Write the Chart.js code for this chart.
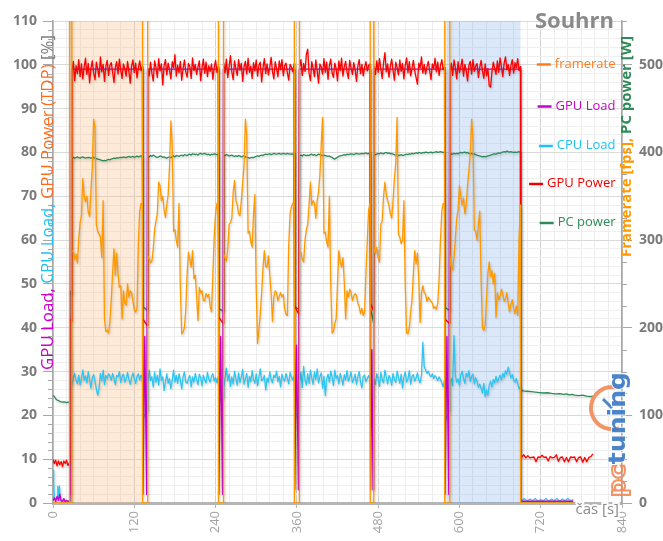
<!DOCTYPE html>
<html><head><meta charset="utf-8">
<style>html,body{margin:0;padding:0;background:#fff;}#wrap{width:663px;height:541px;}</style>
<script src="https://cdn.jsdelivr.net/npm/chart.js@4.4.1/dist/chart.umd.min.js"></script>
</head><body><div id="wrap"><canvas id="c" width="663" height="541"></canvas></div>
<script>
// ---------- DATA ----------
const chartTitle = 'Souhrn';
const seriesNames = ['framerate', 'GPU Load', 'CPU Load', 'GPU Power', 'PC power'];
const xTickLabels = [0, 120, 240, 360, 480, 600, 720, 840];
const leftTickLabels = [0, 10, 20, 30, 40, 50, 60, 70, 80, 90, 100, 110];
const rightTickLabels = [0, 100, 200, 300, 400, 500];
const bandStart = [22.5, 581.5];
const bandEnd = [132.5, 690];
const timeStep = 2;                       // seconds between samples inside a run
const runStart = [28, 140, 252, 364, 474, 586];

// framerate [fps] per run
const framerateRuns = [
 [288,287,278,284,274,300,320,328,370,350,344,350,332,327,355,383,438,428,318,310,307,304,280,345,210,196,197,194,207,232,262,290,260,285,262,246,248,210,242,228,226,250,235,242,240,231,220,218,222,296,333,342,340],
 [282,279,274,276,290,312,322,330,366,362,345,350,334,326,340,352,383,436,410,310,312,300,292,342,246,193,195,200,220,262,286,278,269,288,256,260,236,208,246,240,242,231,231,239,235,238,224,218,260,305,330,342,338],
 [284,280,276,290,318,320,325,355,368,345,340,330,328,345,365,385,438,420,308,310,298,292,330,352,246,182,198,215,240,268,288,270,269,282,260,240,207,235,242,240,231,236,240,235,238,222,215,214,295,330,338,342,336],
 [288,286,278,275,300,312,318,340,366,340,345,342,325,345,355,374,410,440,308,309,298,292,350,250,194,196,205,210,250,288,276,269,280,252,210,242,235,244,240,231,236,239,237,228,224,216,222,214,218,262,300,335,342],
 [290,285,292,280,275,318,322,350,366,352,345,340,330,325,345,370,388,440,307,303,296,300,345,248,194,193,200,218,232,262,288,273,285,255,206,240,248,240,238,230,235,232,230,228,222,224,221,228,255,300,333,342,340],
 [284,270,266,280,302,325,334,362,350,340,348,330,340,362,380,398,438,414,312,310,300,318,333,255,200,197,203,232,262,275,258,265,250,262,212,240,232,236,244,238,230,233,240,228,218,226,232,222,216,225,214,300,340]
];
const framerateGaps = [[0,0],[24,0],[24.5,0],[24.5,1000],[24.6,1000],[24.6,0],[27.5,0],[27.5,1000],
 [132.3,1000],[132.3,0],[139.5,0],[139.5,1000],
 [244.3,1000],[244.3,0],[251.5,0],[251.5,1000],
 [356.3,1000],[356.3,0],[363.5,0],[363.5,1000],
 [468.3,1000],[468.3,0],[473.5,0],[473.5,1000],
 [578.3,1000],[578.3,0],[585.5,0],[585.5,1000],
 [690.5,0],[768,0]];

// GPU load [%]
const gpuLoadPoints = [[0,0.5],[2,1.2],[4,0.3],[6,1.5],[8,0.6],[10,2],[12,0.5],[14,0.4],[16,1],[18,0.3],[20,0.6],[22,0.4],[24.5,0.5],[25,1.8],[25.5,17],[26.5,2],[27.5,99],
 [132.3,99],[132.8,2],[135.5,38],[138.3,2],[139.5,99],
 [244.3,99],[244.8,2],[247.5,38],[250.3,2],[251.5,99],
 [356.3,99],[356.8,3],[359.5,36],[362.3,3],[363.5,99],
 [468.3,99],[468.8,3],[470.8,35],[472.5,3],[473.5,99],
 [578.3,99],[578.8,2],[581.5,38],[584.3,2],[585.5,99],
 [690.5,99],[691,0.4],[768,0.4]];

// CPU load [%] per run
const cpuLoadRuns = [
 [27.3,28.5,29.6,28,27.2,29.2,27,28.3,30.4,28,29,27.4,30,28.1,26.2,28.6,29.3,27.8,26,24.6,26.3,29.6,27.9,30.3,27,29.1,28.4,29.5,29,28,29.6,28.4,27,29.1,28.8,30,27.5,28.9,29.4,27.6,28.3,29.8,28.2,27.1,28.6,29.7,28.4,27.3,28.9,29.5,28.1,29.2,28.5],
 [27.3,30.3,28,28.8,26.5,29.9,27.6,29.1,26.9,30.6,28,28.8,25.7,27.6,29.5,27.3,28.4,26.1,28,30.3,27.6,29.1,27.3,29.5,28,26.1,28.8,29.9,27.6,27.3,28.4,29.1,26.5,28.8,27.6,29.6,28.2,27,29.4,28.6,26.8,29.2,28.1,27.4,29.8,28.3,27.6,28.9,29.5,27.8,28.6,27.5,28.8],
 [26.2,28.5,30.8,27.9,29.4,26.6,28.8,27.2,30.1,28.3,26.9,29.7,27.5,28.8,30.5,27.1,28.4,29.6,26.4,28.9,27.7,30.2,28.1,27.3,29.5,26.8,28.7,30.6,27.9,28.2,29.1,25.8,28.5,27.6,29.9,28.3,27.4,29.2,28.6,30.1,27.7,28.9,26.5,29.4,28.2,27.8,29.6,28.4,27.2,29.8,28.7,28.1,29.0],
 [27.5,29.8,26.4,31.2,28.1,26.9,29.5,27.3,30.4,28.6,27.1,29.9,28.2,30.6,27.4,28.8,29.7,26.2,28.9,24.5,28.3,29.4,27.6,30.1,28.7,26.8,30.3,28.4,29.1,27.2,29.6,28.5,26.9,29.3,28.1,30.2,27.8,28.6,29.9,27.5,28.2,29.4,27.1,28.8,30,27.6,26.3,28.9,29.2,27.7,28.4,29.1,28.3],
 [28.2,27.1,29.5,28.4,26.6,29.8,28.1,27.4,30.3,28.7,27.2,29.1,28.4,26.9,29.6,28.2,27.5,30.1,28.6,27.3,29.4,26.2,28.8,29.9,27.6,28.3,30.2,27.1,28.9,29.3,27.8,28.5,29.7,28.1,27.4,29.2,36.7,31.2,30.4,29.6,30.1,29.2,28.8,29.5,28.4,29.1,28.6,27.9,28.8,28.2,27.4,26.5,28.1],
 [27.5,28.4,26.8,38.2,29.1,27.6,28.3,26.9,29.2,30.1,28.4,27.3,29.6,28.8,30.2,27.7,28.9,29.4,27.2,28.6,27.8,26.4,27.1,26.2,25.1,27.3,24.3,25.8,24.6,26.9,27.8,26.5,28.2,27.4,28.9,27.6,28.4,29.2,28.1,29.6,28.7,30.2,29.4,31,29.8,28.5,29.3,28.1,27.6,28.4,27.2,26.1,26.5]
];
const cpuLoadGaps = [[0,7.5],[1,5],[2,1.2],[4,0.8],[6,1.3],[7,3.8],[8,1],[9.5,3.9],[10.5,0.7],[12,0.5],[14,0.6],[16,0.4],[18,0.6],[20,0.5],[22,0.4],[24,0.5],[25,18],[26,35],[27,27],
 [132.8,24],[133.3,19.6],[139,21],
 [244.8,26],[245.3,23.3],[251,24],
 [356.8,24],[357.3,19.6],[363,21],
 [468.8,24],[469.3,20.8],[473,22],
 [578.8,23],[579.3,19],[585,21],
 [690.5,0.7],[692,0.5],[696,1],[700,0.4],[704,0.9],[708,0.5],[712,1],[716,0.4],[720,0.8],[724,0.5],[728,1],[732,0.4],[736,0.9],[740,0.5],[744,1],[748,0.4],[752,0.9],[756,0.5],[760,1],[764,0.5],[768,0.8]];

// GPU power [% TDP] per run
const gpuPowerRuns = [
 [98.6,100.8,96.4,99.8,98,101.2,97.3,100.2,96.8,99.5,101.5,97.8,100.3,95.9,99.2,100.9,98.1,96.6,100.6,99,97.2,101.8,98.4,100.1,96.2,99.6,101,97.6,99.9,100.5,98.3,96,99.4,100.7,97.9,101.3,98.8,96.9,100.2,99.1,97.4,100.8,98.5,95.8,99.7,101.1,98.2,100.4,97,99.3,100.9,98.7,99.6],
 [99.2,97.5,100.6,98.1,96.3,100.9,99.4,97.1,101.4,98.6,100.2,95.4,99.8,101.2,97.7,100.4,98.9,96.8,100.7,99.3,102.3,97.4,99.9,98.2,100.8,96.5,99.1,101.1,98.4,97.2,100.3,99.6,96.9,101.6,98.7,100.1,97.8,99.5,100.9,96.4,99.2,101.3,98.1,100.6,97.3,99.8,98.5,100.2,96.7,99.4,101,98.3,99.7],
 [100.4,98.2,101.3,97.1,99.6,102.1,98.4,96.6,100.9,99.1,97.6,101.2,98.8,100.3,96.2,99.5,100.8,97.9,101.5,98.3,99.7,96.9,100.5,98.6,101.1,97.4,99.9,100.6,96.1,99.3,101.4,98,100.2,97.7,99.4,101.7,98.5,96.8,100.7,99.2,97.3,100.9,98.9,101.2,97.5,99.8,100.4,98.1,96.5,100.1,99.5,98.4,100.3],
 [99.4,101.2,97.6,100.3,98.5,102.4,103.6,98.1,96.4,100.7,99.2,97.3,101.1,98.6,95.8,100.2,99.5,97.9,101.4,98.3,100.6,96.7,99.8,101.3,98.2,97.1,100.4,99.1,96.3,100.9,98.7,101.5,97.4,99.6,100.8,98.4,96.9,101,99.3,97.8,100.5,98.9,96.2,99.7,101.2,98,100.1,97.5,99.4,100.7,98.6,99.9,100.2],
 [99.6,97.8,100.9,98.3,101.4,99.1,96.9,100.5,102.8,98.4,100.2,97.2,99.7,101.3,98.8,96.5,100.6,99.4,97.7,101.1,98.5,100.3,96.8,99.9,101.6,98.2,100.7,97.5,99.2,101,98.6,97.1,95.6,100.4,99.3,101.8,98.1,100.1,97.9,99.5,100.8,98.7,96.6,100.2,99.1,101.5,98.4,100.6,97.6,99.8,101.2,98.9,99.4],
 [98.8,100.4,97.6,101.1,99.3,96.8,100.7,98.2,99.6,101.3,97.4,100.1,98.7,96.3,99.9,100.8,97.9,101.2,98.5,99.7,100.3,97.1,99.4,101,98.6,96.9,100.2,97.5,99.1,95.2,94.9,98.4,100.6,99.2,97.8,100.9,98.3,101.6,99.5,97.3,100.4,101.8,98.9,100.1,97.6,99.8,101.2,98.1,100.5,99.3,101.4,98.7,99.6]
];
const gpuPowerGaps = [[0,10],[2,9],[4,9.8],[6,8.5],[8,9.6],[10,8.7],[12,9.5],[14,8.3],[16,9.6],[18,9],[20,9.8],[22,8.6],[24.5,9.2],[25,42],[27,41.5],
 [132.6,42],[139,40.5],
 [244.6,42.5],[251,41],
 [356.6,45],[363,43],
 [468.6,45.5],[473,44],
 [578.6,42],[585,41],
 [690.5,10.5],[692,10.5],[695,11],[698,10.3],[701,10.8],[704,10.3],[707,10.4],[710,10.5],[713,9.4],[716,10.5],[719,10.4],[722,10.9],[725,10.4],[728,10.5],[731,9.6],[734,10.6],[737,10.3],[740,10.4],[743,11],[746,9.5],[749,10.4],[752,10.5],[755,9.4],[758,10.4],[761,9.4],[764,10.5],[767,10.4],[770,10.5],[773,9.4],[776,10.4],[779,10.5],[782,9.3],[785,10.4],[788,9.4],[791,10.4],[794,10.6],[797,11.2]];

// PC power [W] per run
const pcPowerRuns = [
 [394,394.5,393.5,394,395,394,393.5,394.5,395,394,393.5,394,394.5,394,393.5,394,394.5,393.5,393,392.5,392,391.5,391,390.5,391,390.5,391.5,392,391.5,392.5,393,393.5,393,394,393.5,394,394.5,394,395,394.5,394,395,395.5,394.5,395,395.5,394.5,395,396,395,395.5,396,395.5],
 [394,395,396.5,395.5,397,396,395,394.5,395,396,395.5,394.5,395,394,393.5,394.5,395,394,395.5,396,395,396.5,396,395.5,396.5,397,396,397.5,397,396.5,397.5,398,397,398.5,398,397.5,398,397,398.5,399,398,398.5,399,398,397.5,398,397,398,397.5,398.5,398,397.5,398],
 [397,396.5,397.5,397,396,396.5,397,396,395.5,396,395.5,396.5,396,395,395.5,396,395,394.5,394,393.5,394,394.5,394,395,395.5,396,395.5,396.5,397,396.5,397.5,398,397.5,398,398.5,397.5,398,399,398.5,398,398.5,399,398,398.5,399,398.5,398,399,398.5,398,398.5,398,398.5],
 [396.5,397,396,397.5,397,396.5,397,396.5,397.5,398,397,397.5,396.5,397,398,397.5,397,396.5,397,396.5,396,395.5,396,395,394.5,393,392.5,393.5,394.5,395.5,396,396.5,397,397.5,397,398,397.5,398,398.5,398,397.5,398.5,399,398.5,398,398.5,399,398.5,399,399.5,398.5,399,398.5],
 [397,397.5,398,399,398.5,399.5,399,398.5,399.5,400,399,399.5,398.5,399,398,397.5,397,397.5,396.5,397,397.5,396.5,397,397.5,398,397.5,398.5,398,399,398.5,399,399.5,399,400,399.5,399,400,399.5,400.5,400,399.5,400,400.5,399.5,400,400.5,401,400,400.5,401,400.5,400,400.5],
 [398,398.5,398,399,398.5,399,398.5,399.5,400,399.5,400,400.5,399.5,400,399,398.5,399,398,398.5,397.5,397,396.5,396,395.5,395,395.5,395,395.5,396,396.5,397,397.5,398,398.5,398,399,399.5,399,400,400.5,401,400.5,401.5,401,400.5,401,400.5,400,400.5,400,400.5,401,400.5]
];
const pcPowerGaps = [[0,123],[2,121.5],[4,119],[6,117.5],[8,117],[10,116],[12,115.5],[14,115],[16,115.5],[18,115],[20,114.5],[22,115],[24.5,115],[25,242],[27,238],
 [132.8,224],[139,220],
 [244.8,222],[251,219],
 [356.8,224],[363,221],
 [468.8,222],[473,206],
 [578.8,223],[585,220],
 [690.5,128.5],[694,128],[700,127.5],[706,127],[712,126.5],[718,126],[724,125.5],[730,125.8],[736,125],[742,124.5],[748,124.8],[754,124],[758,124.5],[762,123.5],[766,124],[770,123],[776,122.5],[782,123],[788,122],[794,121.5],[797,122]];

// ---------- BUILD ----------
function series(runs, gaps) {
  const pts = gaps.map((p, i) => ({x: p[0], y: p[1], o: i}));
  runs.forEach((vals, r) => vals.forEach((v, k) => pts.push({x: runStart[r] + k * timeStep, y: v, o: 0})));
  return pts.sort((a, b) => (a.x - b.x) || (a.o - b.o)).map(p => ({x: p.x, y: p.y}));
}

const COLORS = {
  framerate: '#ff9900', gpuLoad: '#cc00cc', cpuLoad: '#2cc6f4', gpuPower: '#ff0000', pcPower: '#2e8b57'
};
const LEGEND_TEXT = ['#ff7a1a', '#cc00cc', '#1ec3f2', '#ee0000', '#2e8b57'];

Chart.defaults.font.family = "'Open Sans', 'DejaVu Sans', sans-serif";

function drawMulti(ctx, parts, cx, cy, font, angle, targetLen) {
  ctx.save();
  ctx.font = font;
  let total = parts.reduce((s, p) => s + ctx.measureText(p[0]).width, 0);
  ctx.translate(cx, cy);
  ctx.rotate(angle);
  const sc = targetLen ? targetLen / total : 1;
  ctx.scale(sc, sc);
  let x = -total / 2;
  ctx.textBaseline = 'middle';
  ctx.textAlign = 'left';
  for (const [txt, col] of parts) {
    ctx.fillStyle = col;
    ctx.fillText(txt, x, 0);
    x += ctx.measureText(txt).width;
  }
  ctx.restore();
}

const decor = {
  id: 'decor',
  beforeDatasetsDraw(chart) {
    const {ctx, chartArea: a, scales: {x}} = chart;
    const fills = ['rgba(247,176,110,0.27)', 'rgba(100,160,235,0.24)'];
    ctx.save();
    bandStart.forEach((s, i) => {
      const x0 = x.getPixelForValue(s), x1 = x.getPixelForValue(bandEnd[i]);
      ctx.fillStyle = fills[i];
      ctx.fillRect(x0, a.top, x1 - x0, a.bottom - a.top);
    });
    ctx.restore();
  },
  beforeDatasetDraw(chart) {
    const ctx = chart.ctx;
    ctx.save();
    ctx.shadowColor = 'rgba(0,0,0,0.2)';
    ctx.shadowBlur = 2.5;
    ctx.shadowOffsetX = 1;
    ctx.shadowOffsetY = 1.5;
  },
  afterDatasetDraw(chart) { chart.ctx.restore(); },
  afterDraw(chart) {
    const {ctx, chartArea: a, scales} = chart;
    ctx.save();
    // minor tick marks
    ctx.strokeStyle = '#a8a8a8';
    ctx.lineWidth = 1;
    scales.yL.ticks.forEach(t => {
      if (t.value % 10 !== 0) {
        const y = Math.round(scales.yL.getPixelForValue(t.value)) + 0.5;
        ctx.beginPath(); ctx.moveTo(a.left - 5, y); ctx.lineTo(a.left, y); ctx.stroke();
      }
    });
    scales.yR.ticks.forEach(t => {
      if (t.value % 100 !== 0) {
        const y = Math.round(scales.yR.getPixelForValue(t.value)) + 0.5;
        ctx.beginPath(); ctx.moveTo(a.right, y); ctx.lineTo(a.right + 5, y); ctx.stroke();
      }
    });
    // title
    ctx.font = "bold 22px 'Open Sans'";
    ctx.fillStyle = '#8a8a8a';
    ctx.textAlign = 'right';
    ctx.textBaseline = 'alphabetic';
    ctx.fillText(chartTitle, 614, 28);
    // legend
    const ly = [64, 106, 145.5, 183.5, 222.5];
    ctx.font = "13px 'Open Sans'";
    ctx.textBaseline = 'middle';
    seriesNames.forEach((n, i) => {
      const w = ctx.measureText(n).width;
      const tx = 615.5 - w;
      ctx.save();
      ctx.shadowColor = 'rgba(255,255,255,1)';
      ctx.shadowBlur = 4;
      ctx.fillStyle = LEGEND_TEXT[i];
      ctx.textAlign = 'left';
      ctx.fillText(n, tx, ly[i]);
      ctx.restore();
      ctx.strokeStyle = LEGEND_TEXT[i];
      ctx.lineWidth = 2.5;
      ctx.beginPath(); ctx.moveTo(tx - 18, ly[i] + 0.5); ctx.lineTo(tx - 4, ly[i] + 0.5); ctx.stroke();
    });
    // axis titles
    drawMulti(ctx, [['GPU Load, ', '#cc00cc'], ['CPU Load, ', '#1ec3f2'], ['GPU Power (TDP) ', '#ff6a1a'], ['[%]', '#7f7f7f']],
      48, 202.5, "16px 'Open Sans'", -Math.PI / 2, 335);
    drawMulti(ctx, [['Framerate [fps], ', '#ff9900'], ['PC power [W]', '#2e8b57']],
      626.5, 146.5, "bold 15px 'Open Sans'", -Math.PI / 2, 221);
    // x axis title
    ctx.font = "15px 'Open Sans'";
    ctx.textAlign = 'right';
    ctx.textBaseline = 'alphabetic';
    ctx.lineWidth = 4;
    ctx.strokeStyle = 'rgba(255,255,255,0.9)';
    ctx.strokeText('čas [s]', 619, 514);
    ctx.fillStyle = '#8a8a8a';
    ctx.fillText('čas [s]', 619, 514);
    // watermark
    ctx.save();
    ctx.globalAlpha = 0.9;
    ctx.strokeStyle = '#f08a55';
    ctx.lineWidth = 4;
    ctx.beginPath();
    ctx.arc(612, 408, 21, -80 * Math.PI / 180, 70 * Math.PI / 180, true);
    ctx.stroke();
    ctx.strokeStyle = '#3a78c4';
    ctx.lineWidth = 3;
    ctx.beginPath(); ctx.moveTo(612, 408); ctx.lineTo(603, 399); ctx.stroke();
    ctx.translate(619, 497);
    ctx.rotate(-Math.PI / 2);
    ctx.font = "bold 23px 'DejaVu Sans'";
    ctx.textBaseline = 'middle';
    ctx.textAlign = 'left';
    const wAll = ctx.measureText('pctuning').width;
    ctx.scale(125 / wAll, 1);
    const wpc = ctx.measureText('pc').width;
    ctx.lineWidth = 2;
    ctx.strokeStyle = '#f08a55';
    ctx.strokeText('pc', 0, 0);
    ctx.strokeStyle = 'rgba(255,255,255,0.9)';
    ctx.strokeText('tuning', wpc, 0);
    ctx.fillStyle = '#3a78c4';
    ctx.fillText('tuning', wpc, 0);
    ctx.restore();
    ctx.restore();
  }
};

const lineDs = (label, data, color, axis, order) => ({
  label, data, borderColor: color, backgroundColor: color, yAxisID: axis, order,
  borderWidth: 1.3, pointRadius: 0, tension: 0, fill: false, borderJoinStyle: 'round'
});

new Chart(document.getElementById('c'), {
  type: 'line',
  data: {
    datasets: [
      lineDs(seriesNames[0], series(framerateRuns, framerateGaps), COLORS.framerate, 'yR', 0),
      lineDs(seriesNames[1], series([], gpuLoadPoints), COLORS.gpuLoad, 'yL', 2),
      lineDs(seriesNames[2], series(cpuLoadRuns, cpuLoadGaps), COLORS.cpuLoad, 'yL', 3),
      lineDs(seriesNames[3], series(gpuPowerRuns, gpuPowerGaps), COLORS.gpuPower, 'yL', 1),
      lineDs(seriesNames[4], series(pcPowerRuns, pcPowerGaps), COLORS.pcPower, 'yR', 4)
    ]
  },
  options: {
    responsive: false, animation: false, devicePixelRatio: 1,
    layout: {padding: {top: 21, left: 0, right: 0, bottom: 0}},
    plugins: {legend: {display: false}, tooltip: {enabled: false}},
    scales: {
      x: {
        type: 'linear', min: 0, max: 840,
        afterFit: s => { s.height = 38; },
        ticks: {stepSize: 20, autoSkip: false, maxRotation: 90, minRotation: 90, padding: 3,
          color: '#a3a3a3', font: {size: 13},
          callback: v => xTickLabels.includes(v) ? String(v) : ''},
        grid: {color: c => (c.tick && c.tick.value % 120 === 0) ? '#d3d3d3' : '#ececec',
          tickLength: 5, tickColor: c => (c.tick && c.tick.value % 120 === 0) ? '#b5b5b5' : 'rgba(0,0,0,0)'},
        border: {color: '#b5b5b5', width: 3}
      },
      yL: {
        position: 'left', min: 0, max: 110,
        afterFit: s => { s.width = 53; },
        ticks: {stepSize: 2, autoSkip: false, padding: 6, color: '#7b7b7b', font: {size: 14, weight: 'bold'},
          callback: v => leftTickLabels.includes(v) ? String(v) : ''},
        grid: {color: c => (c.tick && c.tick.value % 10 === 0) ? '#dadada' : '#efefef',
          tickLength: 10, tickColor: c => (c.tick && c.tick.value % 10 === 0) ? '#a8a8a8' : 'rgba(0,0,0,0)'},
        border: {color: '#a8a8a8', width: 1.5}
      },
      yR: {
        position: 'right', min: 0, max: 550,
        afterFit: s => { s.width = 41; },
        ticks: {stepSize: 25, autoSkip: false, padding: 7, color: '#7b7b7b', font: {size: 14, weight: 'bold'},
          callback: v => rightTickLabels.includes(v) ? String(v) : ''},
        grid: {drawOnChartArea: false, tickLength: 10,
          tickColor: c => (c.tick && c.tick.value % 100 === 0) ? '#a8a8a8' : 'rgba(0,0,0,0)'},
        border: {color: '#a8a8a8', width: 1.5}
      }
    }
  },
  plugins: [decor]
});
</script>
</body></html>
